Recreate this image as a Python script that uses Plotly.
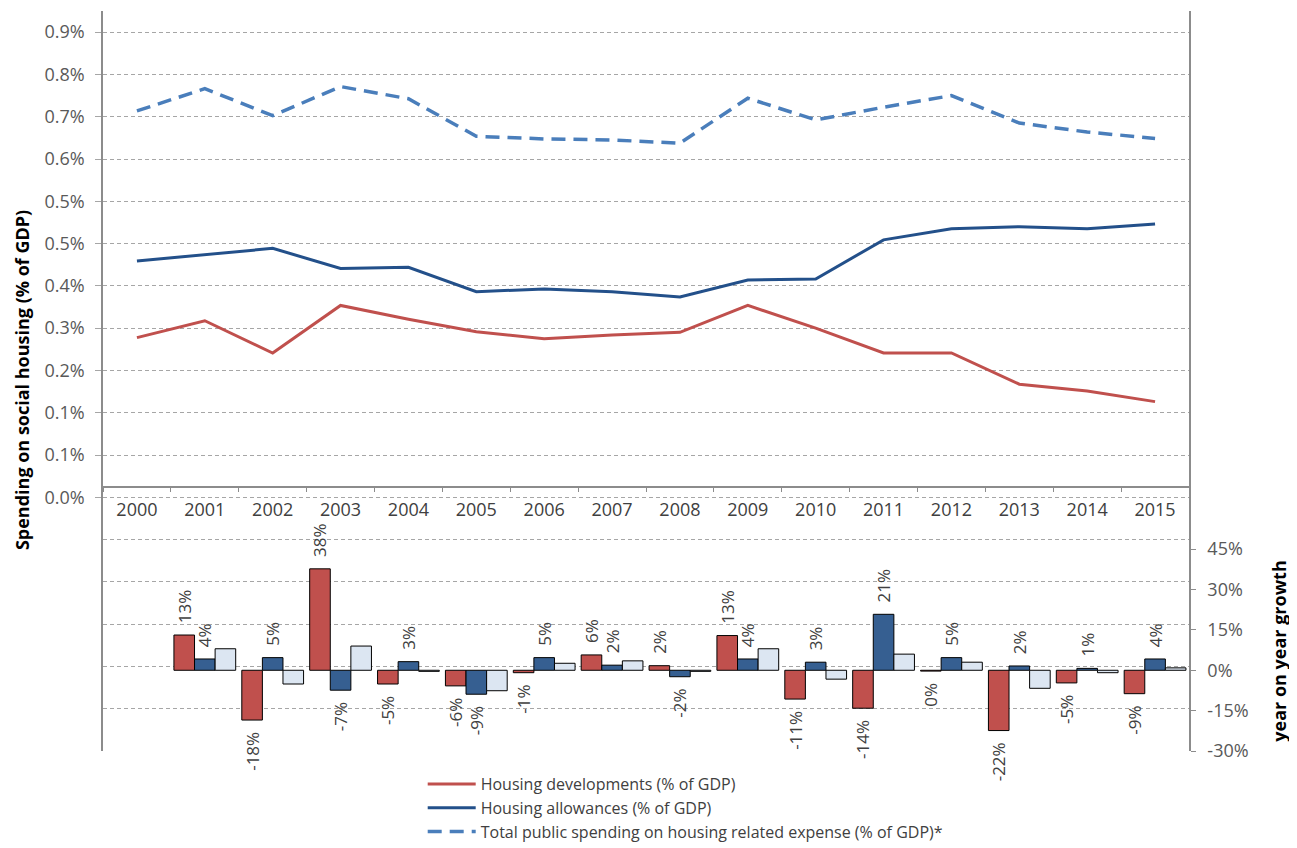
import plotly.graph_objects as go

# ---------------- data ----------------
YEARS = [str(y) for y in range(2000, 2016)]

# Spending levels (% of GDP), left axis
HOUSING_DEV = [0.282, 0.314, 0.253, 0.343, 0.317, 0.293, 0.280, 0.287,
               0.292, 0.343, 0.300, 0.253, 0.253, 0.194, 0.181, 0.161]
HOUSING_ALLOW = [0.427, 0.439, 0.451, 0.413, 0.415, 0.369, 0.374, 0.369,
                 0.359, 0.391, 0.393, 0.467, 0.488, 0.492, 0.488, 0.497]
TOTAL_SPEND = [0.711, 0.753, 0.702, 0.757, 0.734, 0.663, 0.658, 0.656,
               0.650, 0.735, 0.694, 0.718, 0.740, 0.688, 0.671, 0.659]

# Year-on-year growth (%), right axis (2001-2015)
GROWTH_YEARS = YEARS[1:]
DEV_GROWTH = [13.1, -18.5, 37.7, -5.1, -5.8, -0.9, 5.7, 1.7, 12.9, -10.7,
              -14.1, -0.3, -22.4, -4.7, -8.7]
ALLOW_GROWTH = [4.2, 4.7, -7.4, 3.2, -8.9, 4.7, 1.9, -2.4, 4.2, 3.0,
                20.8, 4.7, 1.6, 0.7, 4.2]
TOTAL_GROWTH = [8.0, -5.1, 9.0, -0.4, -7.6, 2.6, 3.5, -0.4, 8.0, -3.3,
                6.0, 3.0, -6.7, -0.9, 0.9]

# Axis ticks
LEFT_GRID_VALUES = [-0.50, -0.42, -0.34, -0.26, -0.18, -0.10, -0.02, 0.06,
                    0.14, 0.22, 0.30, 0.38, 0.46, 0.54, 0.62, 0.70, 0.78, 0.86]
LEFT_TICK_VALUES = [-0.02, 0.06, 0.14, 0.22, 0.30, 0.38, 0.46, 0.54, 0.62,
                    0.70, 0.78, 0.86]
LEFT_TICK_TEXT = ["0.0%", "0.1%", "0.1%", "0.2%", "0.3%", "0.4%", "0.5%",
                  "0.5%", "0.6%", "0.7%", "0.8%", "0.9%"]
RIGHT_TICK_VALUES = [-30, -15, 0, 15, 30, 45]
RIGHT_TICK_TEXT = ["-30%", "-15%", "0%", "15%", "30%", "45%"]

# ---------------- style ----------------
FONT = "Open Sans"
RED = "#C0504D"
DARK_BLUE_LINE = "#23508A"
DARK_BLUE_BAR = "#365F91"
DASH_BLUE = "#4A7EBB"
LIGHT_BLUE = "#DCE6F2"
AXIS_GREY = "#8C8C8C"
GRID_GREY = "#A6A6A6"
TEXT_GREY = "#404040"

# page body has an 8px default margin: size the figure to fit the window
PAGE_OFFSET = 8
FIG_W = 1297 - PAGE_OFFSET
FIG_H = 848 - PAGE_OFFSET
PLOT_L, PLOT_R, PLOT_T, PLOT_B = 103.3, 1189.3, 11.2, 751.0  # window px
PW = PLOT_R - PLOT_L
PH = PLOT_B - PLOT_T


def px_x(x):
    return (x - PLOT_L) / PW


def px_y(y):
    return (PLOT_B - y) / PH


def label_pos(vals):
    out = []
    for v in vals:
        r = round(v)
        t = f"{int(r) + 0}%"
        if v >= 0:
            out.append("\u00a0\u00a0" + t)
        else:
            out.append(t + "\u00a0\u00a0")
    return out


fig = go.Figure()

# bars (right axis)
fig.add_trace(go.Bar(
    x=GROWTH_YEARS, y=DEV_GROWTH, yaxis="y2", name="dev growth",
    marker=dict(color=RED, line=dict(color="#000000", width=1)),
    text=label_pos(DEV_GROWTH), textposition="outside", textangle=-90,
    outsidetextfont=dict(family=FONT, size=17, color=TEXT_GREY),
    constraintext="none", cliponaxis=False, showlegend=False,
))
fig.add_trace(go.Bar(
    x=GROWTH_YEARS, y=ALLOW_GROWTH, yaxis="y2", name="allow growth",
    marker=dict(color=DARK_BLUE_BAR, line=dict(color="#000000", width=1)),
    text=label_pos(ALLOW_GROWTH), textposition="outside", textangle=-90,
    outsidetextfont=dict(family=FONT, size=17, color=TEXT_GREY),
    constraintext="none", cliponaxis=False, showlegend=False,
))
fig.add_trace(go.Bar(
    x=GROWTH_YEARS, y=TOTAL_GROWTH, yaxis="y2", name="total growth",
    marker=dict(color=LIGHT_BLUE, line=dict(color="#000000", width=1)),
    showlegend=False,
))

# lines (left axis)
fig.add_trace(go.Scatter(
    x=YEARS, y=HOUSING_DEV, mode="lines", yaxis="y",
    name="Housing developments (% of GDP)",
    line=dict(color=RED, width=3),
))
fig.add_trace(go.Scatter(
    x=YEARS, y=HOUSING_ALLOW, mode="lines", yaxis="y",
    name="Housing allowances (% of GDP)",
    line=dict(color=DARK_BLUE_LINE, width=3),
))
fig.add_trace(go.Scatter(
    x=YEARS, y=TOTAL_SPEND, mode="lines", yaxis="y",
    name="Total public spending on housing related expense (% of GDP)*",
    line=dict(color=DASH_BLUE, width=3.5, dash="14px,8px"),
))

fig.update_layout(
    width=FIG_W, height=FIG_H,
    margin=dict(l=PLOT_L - PAGE_OFFSET, r=FIG_W - (PLOT_R - PAGE_OFFSET),
                t=PLOT_T - PAGE_OFFSET, b=FIG_H - (PLOT_B - PAGE_OFFSET),
                autoexpand=False),
    paper_bgcolor="white", plot_bgcolor="white",
    font=dict(family=FONT, size=16, color=TEXT_GREY),
    barmode="group", bargap=0.09, bargroupgap=0,
    xaxis=dict(
        type="category", categoryorder="array", categoryarray=YEARS,
        range=[-0.5, 15.5],
        anchor="free", position=0.5 / 1.4,
        showline=True, linecolor=AXIS_GREY, linewidth=1.5,
        ticks="outside", ticklen=5, tickcolor=AXIS_GREY, tickson="boundaries",
        tickfont=dict(family=FONT, size=18, color=TEXT_GREY),
        showgrid=False, zeroline=False, ticklabelstandoff=7,
    ),
    yaxis=dict(
        range=[-0.5, 0.9],
        tickmode="array", tickvals=LEFT_TICK_VALUES, ticktext=LEFT_TICK_TEXT,
        ticks="outside", ticklen=6, tickcolor=GRID_GREY,
        tickfont=dict(family=FONT, size=18, color="#595959"),
        showgrid=True, gridcolor=GRID_GREY, griddash="4px,3px", gridwidth=1,
        minor=dict(tickmode="array", tickvals=LEFT_GRID_VALUES, showgrid=True,
                   gridcolor=GRID_GREY, griddash="4px,3px", gridwidth=1, ticks=""),
        showline=True, linecolor=AXIS_GREY, linewidth=1.5,
        zeroline=False, ticklabelstandoff=7,
    ),
    yaxis2=dict(
        range=[-30, 245], overlaying="y", side="right", anchor="x",
        tickmode="array", tickvals=RIGHT_TICK_VALUES, ticktext=RIGHT_TICK_TEXT,
        ticks="outside", ticklen=5, tickcolor=AXIS_GREY,
        tickfont=dict(family=FONT, size=18, color="#595959"),
        showgrid=False, zeroline=False,
        showline=True, linecolor=AXIS_GREY, linewidth=1.5,
        ticklabelstandoff=8,
    ),
    legend=dict(
        x=px_x(423), xanchor="left",
        y=px_y(767), yanchor="top",
        font=dict(family=FONT, size=16, color=TEXT_GREY),
        bgcolor="rgba(0,0,0,0)", tracegroupgap=0, itemwidth=48,
    ),
    annotations=[
        dict(text="<b>Spending on social housing (% of GDP)</b>",
             xref="paper", yref="paper", x=px_x(8.5), y=px_y(380),
             textangle=-90, showarrow=False, xanchor="left", yanchor="middle",
             font=dict(family=FONT, size=18, color="#000000")),
        dict(text="<b>year on year growth</b>",
             xref="paper", yref="paper", x=px_x(1279), y=px_y(651),
             textangle=-90, showarrow=False, xanchor="center", yanchor="middle",
             font=dict(family=FONT, size=18, color="#000000")),
    ],
)

fig.write_html("out.html")
